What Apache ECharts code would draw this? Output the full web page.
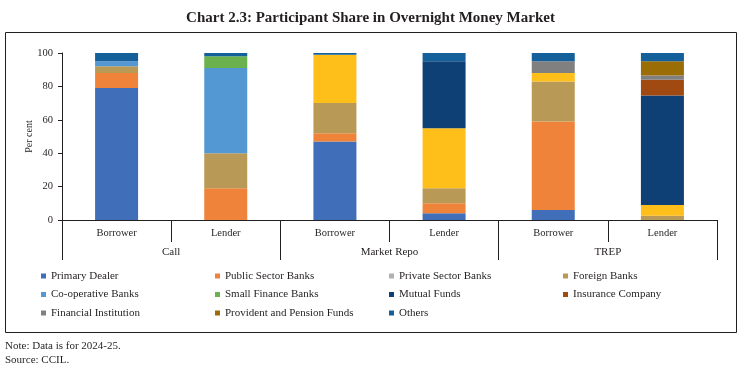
<!DOCTYPE html>
<html><head><meta charset="utf-8">
<script src="https://cdn.jsdelivr.net/npm/echarts@6/dist/echarts.min.js"></script>
<style>html,body{margin:0;padding:0;background:#fff}#c{width:741px;height:374px}</style>
</head><body><div id="c"></div>
<script>
const categories = ['Borrower','Lender','Borrower','Lender','Borrower','Lender'];
const groups = ['Call','Market Repo','TREP'];
const primaryDealer      = [79, 0, 47, 4, 6, 0];
const publicSectorBanks  = [9, 19, 5, 6, 53, 0];
const foreignBanks       = [4, 21, 18, 9, 24, 2.5];
const privateSectorBanks = [0, 0, 29, 36, 5, 6.5];
const cooperativeBanks   = [3, 51, 0, 0, 0, 0];
const smallFinanceBanks  = [0, 7, 0, 0, 0, 0];
const mutualFunds        = [0, 0, 0, 40, 0, 65.5];
const insuranceCompany   = [0, 0, 0, 0, 0, 9.5];
const financialInst      = [0, 0, 0, 0, 7, 2.5];
const providentPension   = [0, 0, 0, 0, 0, 8.5];
const others             = [5, 2, 1, 5, 5, 5];

const FONT = 'Liberation Serif';
const seriesDefs = [
  ['Primary Dealer', primaryDealer, '#416EB8'],
  ['Public Sector Banks', publicSectorBanks, '#F0833A'],
  ['Foreign Banks', foreignBanks, '#B89A56'],
  ['Private Sector Banks', privateSectorBanks, '#FFBF1A'],
  ['Co-operative Banks', cooperativeBanks, '#5397D3'],
  ['Small Finance Banks', smallFinanceBanks, '#6BB24E'],
  ['Mutual Funds', mutualFunds, '#0E3F75'],
  ['Insurance Company', insuranceCompany, '#A04A12'],
  ['Financial Institution', financialInst, '#808080'],
  ['Provident and Pension Funds', providentPension, '#9A6D06'],
  ['Others', others, '#14609A']
];
const legendLayout = [
  ['Primary Dealer', 0, 0], ['Public Sector Banks', 1, 0], ['Private Sector Banks', 2, 0], ['Foreign Banks', 3, 0],
  ['Co-operative Banks', 0, 1], ['Small Finance Banks', 1, 1], ['Mutual Funds', 2, 1], ['Insurance Company', 3, 1],
  ['Financial Institution', 0, 2], ['Provident and Pension Funds', 1, 2], ['Others', 2, 2]
];
const colX = [41, 215, 389, 563];
const rowY = [270.5, 289, 307.5];
const legendIconColor = {'Private Sector Banks': '#B0B0B0'};

const chart = echarts.init(document.getElementById('c'), null, {renderer: 'canvas'});
chart.setOption({
  animation: false,
  title: {
    text: 'Chart 2.3: Participant Share in Overnight Money Market',
    left: 'center', top: 6,
    textStyle: {fontFamily: FONT, fontSize: 15, fontWeight: 'bold', color: '#231F20'}
  },
  graphic: [
    {type: 'rect', shape: {x: 5.5, y: 32.5, width: 731, height: 300}, style: {fill: 'none', stroke: '#231F20', lineWidth: 1}, silent: true},
    {type: 'text', left: 5, top: 341, style: {text: 'Note: Data is for 2024-25.', fontFamily: FONT, fontSize: 11, fill: '#231F20'}},
    {type: 'text', left: 5, top: 355, style: {text: 'Source: CCIL.', fontFamily: FONT, fontSize: 11, fill: '#231F20'}}
  ],
  legend: legendLayout.map(([name, c, r]) => ({
    data: [legendIconColor[name] ? {name: name, itemStyle: {color: legendIconColor[name]}} : name],
    left: colX[c], top: rowY[r], padding: 0,
    icon: 'rect', itemWidth: 5, itemHeight: 5,
    selectedMode: false,
    textStyle: {fontFamily: FONT, fontSize: 11, color: '#231F20'}
  })),
  grid: {left: 62, right: 24, top: 53, bottom: 154, containLabel: false},
  xAxis: [
    {
      type: 'category', data: categories, position: 'bottom',
      axisLine: {lineStyle: {color: '#231F20', width: 1}},
      axisTick: {show: true, length: 22, lineStyle: {color: '#231F20'}},
      axisLabel: {fontFamily: FONT, fontSize: 10.5, color: '#231F20', margin: 8}
    },
    {
      type: 'category', data: groups, position: 'bottom', offset: 0,
      axisLine: {show: false},
      axisTick: {show: true, length: 40, lineStyle: {color: '#231F20'}},
      axisLabel: {fontFamily: FONT, fontSize: 11, color: '#231F20', margin: 27}
    }
  ],
  yAxis: {
    type: 'value', min: 0, max: 100, interval: 20,
    name: 'Per cent', nameLocation: 'middle', nameGap: 28, nameRotate: 90,
    nameMoveOverlap: false,
    nameTextStyle: {fontFamily: FONT, fontSize: 10, color: '#231F20'},
    axisLine: {show: true, lineStyle: {color: '#231F20'}},
    axisTick: {show: true, length: 4, lineStyle: {color: '#231F20'}},
    axisLabel: {fontFamily: FONT, fontSize: 10.5, color: '#231F20', margin: 9},
    splitLine: {show: false}
  },
  series: seriesDefs.map(([name, data, color]) => ({
    name: name, type: 'bar', stack: 'total', data: data, xAxisIndex: 0,
    barWidth: 43, itemStyle: {color: color}, emphasis: {disabled: true}
  }))
});
</script></body></html>
